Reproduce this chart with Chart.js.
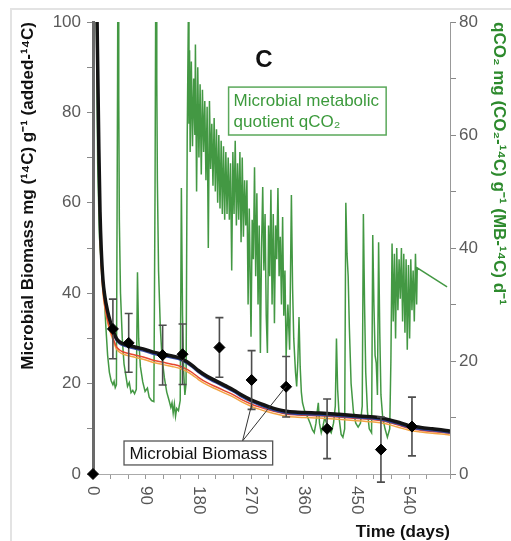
<!DOCTYPE html>
<html><head><meta charset="utf-8">
<script src="https://cdn.jsdelivr.net/npm/chart.js@4.4.1/dist/chart.umd.min.js"></script>
<style>
html,body{margin:0;padding:0;background:#fff;}
#wrap{position:relative;width:511px;height:541px;overflow:hidden;}
#frame{position:absolute;left:10px;top:8px;width:520px;height:560px;border-left:2px solid #e3e3e3;border-top:2px solid #e3e3e3;}
canvas{position:absolute;left:0;top:0;}
</style></head>
<body><div id="wrap"><div id="frame"></div><canvas id="c" width="511" height="541"></canvas></div>
<script>
// ---- data ----
const xTickLabels = [0, 90, 180, 270, 360, 450, 540];

const obsDays   = [0, 34, 61, 119, 153, 216, 271, 330, 400, 492, 545];
const obsValues = [0, 32.1, 29.0, 26.3, 26.5, 28.0, 20.8, 19.3, 10.0, 5.4, 10.5];
const obsErr    = [0, 6.6, 6.5, 6.6, 6.7, 6.6, 6.5, 6.7, 6.6, 7.2, 6.5];

const bmDays   = [4,7,10,12,14,17,20,25,30,35, 40,45,50,60,75,90,105,120,135,150, 160,170,180,195,210,225,240,255,270,285, 300,315,330,345,360,380,400,420,440,460, 480,500,520,540,560,580,600,610];
const bmBlack  = [130,100,72,58,50,43,39.5,36,33.5,31.5, 30,29.3,28.9,28.5,28.0,27.5,26.9,26.5,26.1,25.6, 24.9,24.0,22.9,21.6,20.6,19.6,18.6,17.4,16.4,15.6, 14.9,14.3,13.9,13.7,13.6,13.5,13.4,13.2,13.0,12.8, 12.6,12.2,11.5,10.7,10.3,10.0,9.7,9.5];
const bmBlue   = [129,99,71,57,49.4,42.5,39.1,35.6,33.1,31.1, 29.6,28.9,28.5,28.1,27.6,27.1,26.5,26.1,25.7,25.2, 24.5,23.6,22.5,21.2,20.2,19.2,18.2,17.0,16.0,15.2, 14.5,13.9,13.5,13.3,13.2,13.1,13.0,12.8,12.6,12.4, 12.2,11.8,11.1,10.3,9.9,9.6,9.3,9.1];
const bmRed    = [125,95,68,55,47,41,37.5,34,31.7,29.8, 28.2,27.5,27.1,26.7,26.2,25.7,25.1,24.7,24.3,23.8, 23.2,22.4,21.4,20.2,19.3,18.4,17.5,16.4,15.5,14.8, 14.2,13.7,13.3,13.1,13.0,12.9,12.8,12.6,12.4,12.2, 12.0,11.6,10.9,10.1,9.7,9.4,9.2,9.0];
const bmOrange = [122,93,66,53,46,40,37,33.5,31.2,29.3, 27.7,27.0,26.6,26.2,25.7,25.2,24.6,24.2,23.8,23.3, 22.7,21.9,20.9,19.7,18.8,17.9,17.0,15.9,15.0,14.3, 13.7,13.2,12.8,12.6,12.5,12.4,12.3,12.1,11.9,11.7, 11.5,11.1,10.4,9.7,9.3,9.0,8.8,8.6];

const qDays = [2,4,6,8,11,15,19,22,25,28,31,34,36,38,40,
 42,43,44,45,47,50,53,56,59,62,65,68,71,74,
 76,78,81,85,89,93,96,100,104,
 106,108,109,110,112,115,118,122,126,130,133,135,137,139,141,143,146,149,
 151,153,155,157,159,
 161,163,164,165,166,168,170,172,174,175,177,179,181,183,185,187,189,191,193,195,197,199,201,203,205,207,209,211,213,215,217,219,221,223,225,227,229,231,233,235,237,239,241,243,245,247,249,251,253,255,257,259,261,263,
 265,267,270,272,274,276,278,280,282,284,286,288,290,292,294,296,298,300,302,304,306,308,310,312,314,316,318,320,322,324,326,328,330,333,336,339,341,343,346,348,350,352,354,356,358,362,367,371,375,378,381,383,385,387,390,393,396,399,403,407,411,414,416,418,421,424,427,430,
 432,434,436,438,441,445,449,453,457,460,462,464,466,469,472,476,478,480,482,484,486,488,490,492,495,499,503,507,
 509,511,513,515,517,519,521,523,525,527,529,531,533,535,537,539,541,543,545,547,549,551,553,554,605];
const qValues = [160,120,80,55,42,36,32,26,21,18,16.5,15.8,16.4,15.3,15.8,
 70,110,67,45,32,24,19.5,17.5,15.5,16.2,14.4,14.8,14.2,15,
 35.7,24,19,16.3,14.6,15.2,13.6,13,12.8,
 50,110,70,52,36,26,20.5,17,14.5,13,11.8,12.6,10.8,12.4,10.2,11.6,11.2,13,
 50.6,28,18,14,16,
 60,82,62,75,57,73,58,70,60,76,50,72,56,69,53,68,57,66,52,65,40,66,54,62,51,63,50,61,48,60,47,59,46,58,45,57,46,56,45,55,36,57,46,59,44,55,45,57,41,56,42,52,44,52,
 30,47,24.3,45,38,54.3,35,49.7,30,44,21.4,40,50.8,36,46,28,21.4,44,35,50.3,30,46,26.7,44,38,50.6,35,42,30,45.5,28,36,20.7,30,22,49.4,33,24,18,15.5,20,27.8,19,14.5,12.6,11,10,9,7.8,7.3,9,11,12.6,9,7.3,8.5,10,9,8,7.3,9,12,24,15,9.5,7,6.5,8,
 48,39,35,26,16,11,9,8.3,9,12,46,30,18,11,8,7.3,42.3,30,21,19.6,14,41,25,14,10,8,6.5,8,
 20,40.8,27,39,24,40,29,38,31,40,27,39,25,38,22,37,24,38,29,36,27,39,30,36.5,33.1];

// ---- drawing ----
const FONT = '"Liberation Sans", Arial, Helvetica, sans-serif';
const pts = (xs, ys) => xs.map((v, i) => ({x: v, y: ys[i]}));

const deco = {
  id: 'deco',
  afterDatasetDraw(chart, args) {
    if (args.index !== 1) return;
    const {ctx, scales: {x, y}} = chart;
    ctx.save();
    ctx.strokeStyle = '#4d4d4d';
    ctx.lineWidth = 1.6;
    obsDays.forEach((d, i) => {
      const e = obsErr[i];
      if (!e) return;
      const px = x.getPixelForValue(d);
      const t = y.getPixelForValue(obsValues[i] + e);
      const b = y.getPixelForValue(obsValues[i] - e);
      ctx.beginPath();
      ctx.moveTo(px, t); ctx.lineTo(px, b);
      ctx.moveTo(px - 4, t); ctx.lineTo(px + 4, t);
      ctx.moveTo(px - 4, b); ctx.lineTo(px + 4, b);
      ctx.stroke();
    });
    ctx.restore();
  },
  afterDraw(chart) {
    const {ctx, scales: {x, y}} = chart;
    const X = v => x.getPixelForValue(v);
    const Y = v => y.getPixelForValue(v);
    ctx.save();
    // rotated x tick labels (reading top to bottom)
    ctx.font = '17px ' + FONT;
    ctx.fillStyle = '#555';
    ctx.textAlign = 'left';
    ctx.textBaseline = 'middle';
    xTickLabels.forEach(v => {
      ctx.save();
      ctx.translate(X(v), x.top + 12);
      ctx.rotate(Math.PI / 2);
      ctx.fillText(String(v), 0, 0);
      ctx.restore();
    });
    // panel letter
    ctx.font = 'bold 24px ' + FONT;
    ctx.fillStyle = '#111';
    ctx.textAlign = 'center';
    ctx.fillText('C', X(292), Y(91.5));
    // qCO2 label box
    const gx0 = X(231.7), gx1 = X(500.9), gy0 = Y(85.6), gy1 = Y(75.0);
    ctx.fillStyle = '#fff';
    ctx.fillRect(gx0, gy0, gx1 - gx0, gy1 - gy0);
    ctx.strokeStyle = '#5aa85a';
    ctx.lineWidth = 1.5;
    ctx.strokeRect(gx0, gy0, gx1 - gx0, gy1 - gy0);
    ctx.fillStyle = '#3c9a3c';
    ctx.font = '17px ' + FONT;
    ctx.textAlign = 'left';
    ctx.textBaseline = 'alphabetic';
    ctx.fillText('Microbial metabolic', gx0 + 5, Y(81.4));
    ctx.fillText('quotient qCO\u2082', gx0 + 5, Y(76.7));
    // biomass label connectors
    ctx.strokeStyle = '#333';
    ctx.lineWidth = 1;
    ctx.beginPath();
    ctx.moveTo(X(255.5), Y(7.3)); ctx.lineTo(X(271), Y(15.3));
    ctx.moveTo(X(255.5), Y(7.3)); ctx.lineTo(X(330.5), Y(19.5));
    ctx.stroke();
    // biomass label box
    const bx0 = X(53), bx1 = X(307), by0 = Y(7.3), by1 = Y(2.0);
    ctx.fillStyle = '#fff';
    ctx.fillRect(bx0, by0, bx1 - bx0, by1 - by0);
    ctx.strokeStyle = '#555';
    ctx.lineWidth = 1.3;
    ctx.strokeRect(bx0, by0, bx1 - bx0, by1 - by0);
    ctx.fillStyle = '#111';
    ctx.textAlign = 'center';
    ctx.textBaseline = 'middle';
    ctx.fillText('Microbial Biomass', (bx0 + bx1) / 2, (by0 + by1) / 2 + 1);
    ctx.restore();
  }
};

new Chart(document.getElementById('c'), {
  type: 'line',
  data: {
    datasets: [
      {type: 'scatter', label: 'Measured biomass', data: pts(obsDays, obsValues), yAxisID: 'y',
       pointStyle: 'rectRot', pointRadius: 5.5, backgroundColor: '#000', borderColor: '#000', showLine: false, clip: false},
      {label: 'Biomass', data: pts(bmDays, bmBlack), yAxisID: 'y', borderColor: '#141414', borderWidth: 3.5,
       pointRadius: 0, cubicInterpolationMode: 'monotone'},
      {label: 'Biomass b', data: pts(bmDays, bmBlue), yAxisID: 'y', borderColor: '#3347a0', borderWidth: 2,
       pointRadius: 0, cubicInterpolationMode: 'monotone'},
      {label: 'Biomass r', data: pts(bmDays, bmRed), yAxisID: 'y', borderColor: '#e5462e', borderWidth: 1.5,
       pointRadius: 0, cubicInterpolationMode: 'monotone'},
      {label: 'Biomass o', data: pts(bmDays, bmOrange), yAxisID: 'y', borderColor: '#f2a444', borderWidth: 1.5,
       pointRadius: 0, cubicInterpolationMode: 'monotone'},
      {label: 'qCO2', data: pts(qDays, qValues), yAxisID: 'y1', borderColor: 'rgba(34,134,34,0.85)', borderWidth: 1.5,
       pointRadius: 0, tension: 0}
    ]
  },
  options: {
    responsive: false, animation: false, devicePixelRatio: 1,
    layout: {padding: {top: 22, left: 0, right: 0, bottom: 0}},
    plugins: {legend: {display: false}, tooltip: {enabled: false}},
    scales: {
      x: {type: 'linear', position: 'bottom', min: 0, max: 610,
          afterFit: s => { s.height = 67; },
          border: {color: '#aaa', width: 1},
          grid: {drawOnChartArea: false, tickLength: 5, color: '#999'},
          ticks: {display: false, stepSize: 30, autoSkip: false},
          title: {display: true, text: 'Time (days)', align: 'end', color: '#111',
                  font: {family: FONT, size: 17, weight: 'bold', lineHeight: 1}, padding: {top: 0, bottom: 0}}},
      y: {position: 'left', min: 0, max: 100,
          afterFit: s => { s.width = 93; },
          border: {color: '#6a6a6a', width: 3},
          grid: {drawOnChartArea: false, tickLength: 6, color: '#888'},
          ticks: {stepSize: 10, autoSkip: false, padding: 6, color: '#5a5a5a', font: {family: FONT, size: 17},
                  callback: v => (v % 20 === 0 ? String(v) : '')},
          title: {display: true, text: 'Microbial Biomass mg (\u00b9\u2074C) g\u207b\u00b9 (added-\u00b9\u2074C)', align: 'end', color: '#111',
                  font: {family: FONT, size: 17, weight: 'bold', lineHeight: 1}, padding: {top: 20, bottom: 0}}},
      y1: {position: 'right', min: 0, max: 80,
          afterFit: s => { s.width = 61; },
          border: {color: '#999', width: 1},
          grid: {drawOnChartArea: false, tickLength: 6, color: '#888'},
          ticks: {stepSize: 10, autoSkip: false, padding: 3, color: '#5a5a5a', font: {family: FONT, size: 17},
                  callback: v => (v % 20 === 0 ? String(v) : '')},
          title: {display: true, text: 'qCO\u2082 mg (CO\u2082-\u00b9\u2074C) g\u207b\u00b9 (MB-\u00b9\u2074C) d\u207b\u00b9', align: 'end', color: '#2d8a2d',
                  font: {family: FONT, size: 17, weight: 'bold', lineHeight: 1}, padding: {top: 3.5, bottom: 0}}}
    }
  },
  plugins: [deco]
});
</script>
</body></html>
